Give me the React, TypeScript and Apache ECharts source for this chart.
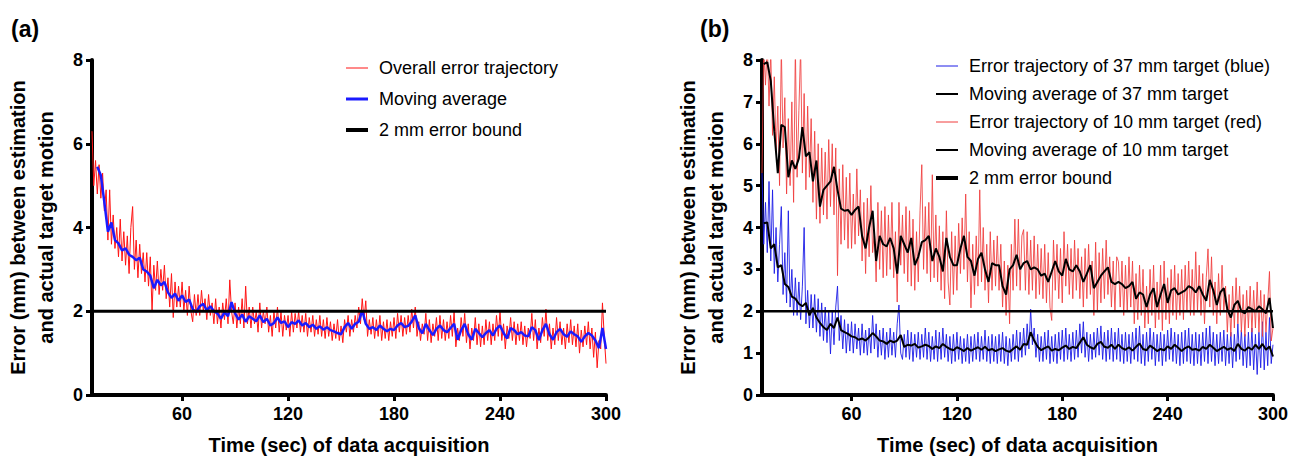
import React, { useEffect, useRef } from "react";
import * as echarts from "echarts";

// ---------- sampling grid ----------
const RAW_T0 = 9; // first raw sample (s), 1-s sampling
const RAW_DT = 1;
const MA_A_T0 = 12; // moving average panel (a), 2-s sampling
const MA_B_T0 = 10; // moving averages panel (b), 2-s sampling
const MA_DT = 2;

// ---------- axes ----------
const X_MIN = 9;
const X_MAX = 300;
const xTickValues = [60, 120, 180, 240, 300];
const yMax = 8;
const yIntervalA = 2;
const yIntervalB = 1;
const boundT = [9, 300];
const boundV = [2, 2];

// ---------- texts ----------
const panelLabels = ["(a)", "(b)"];
const xAxisTitle = "Time (sec) of data acquisition";
const yAxisTitle = "Error (mm) between estimation\nand actual target motion";
const legendA = ["Overall error trajectory", "Moving average", "2 mm error bound"];
const legendB = [
  "Error trajectory of 37 mm target (blue)",
  "Moving average of 37 mm target",
  "Error trajectory of 10 mm target (red)",
  "Moving average of 10 mm target",
  "2 mm error bound",
];

// ---------- panel (a) ----------
const rawA = [
  6.3, 5.0, 5.6, 4.8, 5.5, 4.7, 5.3, 4.4, 4.9, 3.7,
  4.9, 3.6, 4.3, 3.5, 4.0, 3.3, 4.2, 3.2, 3.9, 3.1,
  3.8, 2.9, 4.0, 4.5, 3.0, 3.7, 2.8, 3.6, 2.9, 3.4,
  2.7, 3.4, 2.6, 3.3, 2.0, 3.1, 2.5, 3.2, 2.4, 3.0,
  2.5, 3.1, 2.3, 2.8, 2.1, 2.9, 1.85, 2.7, 2.1, 2.6,
  2.1, 2.7, 2.0, 2.5, 1.9, 2.6, 2.0, 1.75, 2.4, 1.9,
  2.4, 1.9, 2.5, 2.0, 2.3, 1.8, 2.4, 1.9, 2.2, 1.7,
  2.3, 1.7, 2.1, 1.6, 2.2, 1.8, 2.3, 1.7, 2.75, 2.0,
  1.7, 2.2, 1.6, 2.1, 1.7, 2.3, 1.6, 2.6, 1.7, 2.1,
  1.6, 2.1, 1.7, 2.0, 1.5, 2.2, 1.6, 2.0, 1.7, 2.1,
  1.5, 1.9, 1.4, 2.0, 1.6, 2.1, 1.5, 2.0, 1.4, 1.9,
  1.55, 1.9, 1.4, 2.0, 1.5, 1.95, 1.6, 2.0, 1.5, 1.9,
  1.5, 1.95, 1.4, 1.85, 1.5, 1.9, 1.4, 1.8, 1.45, 1.9,
  1.4, 1.8, 1.35, 1.85, 1.4, 1.75, 1.3, 1.7, 1.35, 1.8,
  1.3, 1.65, 1.25, 1.8, 1.5, 1.9, 1.4, 1.8, 1.5, 1.9,
  1.6, 2.1, 1.7, 2.3, 1.8, 2.25, 1.4, 1.8, 1.45, 1.85,
  1.35, 1.8, 1.4, 1.9, 1.3, 1.75, 1.35, 1.8, 1.3, 1.75,
  1.4, 1.85, 1.35, 1.95, 1.5, 1.9, 1.4, 1.85, 1.45, 1.9,
  1.5, 2.05, 1.6, 2.1, 1.4, 1.75, 1.3, 1.7, 1.45, 1.95,
  1.3, 1.8, 1.25, 1.7, 1.4, 1.85, 1.3, 1.9, 1.35, 1.8,
  1.3, 1.75, 1.35, 1.9, 1.4, 2.0, 1.15, 1.6, 1.3, 1.85,
  1.4, 1.95, 1.25, 1.7, 1.1, 1.6, 1.3, 1.85, 1.2, 1.7,
  1.15, 1.65, 1.2, 1.8, 1.3, 1.75, 1.2, 1.7, 1.3, 1.9,
  1.4, 2.0, 1.3, 1.7, 1.1, 1.65, 1.35, 1.85, 1.3, 1.75,
  1.2, 1.7, 1.3, 1.75, 1.2, 1.65, 1.15, 1.6, 1.35, 1.95,
  1.3, 1.8, 1.1, 1.6, 1.25, 1.85, 1.4, 2.05, 1.3, 1.7,
  1.1, 1.6, 1.2, 1.85, 1.3, 1.75, 1.2, 1.6, 1.1, 1.7,
  1.25, 1.8, 1.2, 1.65, 1.15, 1.7, 1.0, 1.55, 1.15, 1.65,
  1.2, 1.75, 1.1, 1.6, 0.9, 1.5, 0.65, 1.3, 1.1, 2.2,
  1.4, 0.75,
];

const maA = [
  5.45, 5.25, 4.6, 3.9, 4.12, 3.7, 3.62, 3.45, 3.5, 3.35,
  3.3, 3.22, 3.28, 3.0, 2.95, 2.85, 2.55, 2.75, 2.62, 2.7,
  2.45, 2.32, 2.42, 2.25, 2.38, 2.22, 2.28, 2.05, 1.98, 2.12,
  2.18, 2.02, 2.12, 2.0, 1.95, 1.82, 1.98, 1.88, 2.22, 1.95,
  1.8, 1.92, 1.75, 1.88, 1.82, 1.76, 1.9, 1.74, 1.82, 1.66,
  1.72, 1.85, 1.72, 1.76, 1.62, 1.74, 1.7, 1.78, 1.66, 1.72,
  1.62, 1.68, 1.58, 1.64, 1.56, 1.62, 1.55, 1.52, 1.48, 1.45,
  1.62, 1.72, 1.58, 1.7, 1.75, 2.02, 1.7, 1.58, 1.62, 1.55,
  1.66, 1.58, 1.52, 1.58, 1.55, 1.66, 1.72, 1.62, 1.65, 1.75,
  1.9, 1.6, 1.47, 1.7, 1.55, 1.43, 1.58, 1.66, 1.55, 1.5,
  1.6, 1.7, 1.32, 1.55, 1.7, 1.45, 1.32, 1.58, 1.48, 1.38,
  1.48, 1.55, 1.42, 1.58, 1.66, 1.48, 1.35, 1.6, 1.55, 1.45,
  1.5, 1.42, 1.4, 1.62, 1.55, 1.31, 1.55, 1.7, 1.45, 1.32,
  1.5, 1.58, 1.45, 1.39, 1.52, 1.45, 1.4, 1.27, 1.4, 1.48,
  1.42, 1.3, 1.12, 1.6, 1.1,
];

// ---------- panel (b) ----------
const rawB37 = [
  5.3, 3.6, 4.6, 3.4, 5.1, 3.2, 4.9, 2.9, 4.0, 2.7,
  3.6, 4.5, 2.4, 3.4, 2.2, 4.4, 2.1, 3.0, 1.9, 2.8,
  1.9, 2.7, 1.8, 2.6, 4.0, 1.7, 2.5, 1.6, 2.4, 1.6,
  2.4, 1.5, 2.3, 1.4, 2.2, 1.3, 2.1, 1.25, 2.0, 0.98,
  2.0, 1.2, 2.1, 2.6, 1.3, 1.9, 1.1, 1.8, 1.0, 1.7,
  1.05, 1.75, 1.0, 1.7, 1.1, 1.6, 0.95, 1.7, 1.0, 1.55,
  0.95, 1.6, 1.0, 1.9, 1.1, 1.7, 0.9, 1.55, 0.95, 1.6,
  0.85, 1.5, 0.9, 1.6, 0.95, 1.5, 0.9, 1.7, 2.15, 1.0,
  0.85, 1.45, 0.9, 1.55, 0.85, 1.5, 0.8, 1.45, 0.9, 1.5,
  0.85, 1.45, 0.9, 1.6, 0.85, 1.5, 0.8, 1.4, 0.85, 1.55,
  0.8, 1.5, 0.85, 1.6, 0.9, 1.45, 0.8, 1.4, 0.75, 1.45,
  0.8, 1.5, 0.85, 1.4, 0.75, 1.35, 0.8, 1.45, 0.75, 1.4,
  0.8, 1.45, 0.85, 1.5, 0.8, 1.4, 0.85, 1.55, 0.8, 1.4,
  0.75, 1.45, 0.8, 1.4, 0.75, 1.45, 0.8, 1.5, 0.75, 1.4,
  0.7, 1.35, 0.8, 1.45, 0.85, 1.55, 0.8, 1.5, 0.9, 1.6,
  0.95, 1.7, 1.1, 2.05, 1.2, 1.6, 0.9, 1.45, 0.8, 1.4,
  0.8, 1.5, 0.85, 1.55, 0.75, 1.4, 0.8, 1.45, 0.75, 1.5,
  0.85, 1.55, 0.8, 1.6, 0.85, 1.45, 0.8, 1.5, 0.85, 1.55,
  0.9, 1.7, 1.0, 1.75, 0.9, 1.5, 0.8, 1.45, 0.85, 1.5,
  0.9, 1.6, 0.95, 1.65, 0.85, 1.5, 0.8, 1.55, 0.85, 1.6,
  0.8, 1.5, 0.85, 1.6, 0.8, 1.45, 0.75, 1.5, 0.8, 1.45,
  0.75, 1.5, 0.85, 1.6, 0.8, 1.65, 0.75, 1.45, 0.7, 1.5,
  0.8, 1.6, 0.85, 1.5, 0.7, 1.45, 0.8, 1.5, 0.7, 1.45,
  0.8, 1.55, 0.85, 1.6, 0.8, 1.5, 0.75, 1.45, 0.7, 1.5,
  0.75, 1.55, 0.8, 1.6, 0.75, 1.45, 0.7, 1.5, 0.75, 1.45,
  0.7, 1.5, 0.8, 1.6, 0.75, 1.65, 0.8, 1.5, 0.7, 1.45,
  0.75, 1.5, 0.8, 1.55, 0.7, 1.45, 0.75, 1.5, 0.65, 1.45,
  0.8, 1.7, 0.85, 1.55, 0.7, 1.45, 0.65, 1.5, 0.7, 1.6,
  0.6, 1.45, 0.49, 1.5, 0.65, 1.75, 0.6, 1.5, 0.7, 1.85,
  0.75, 1.2,
];

const rawB10 = [
  5.3, 8.3, 7.4, 8.4, 6.9, 8.2, 6.2, 7.6, 5.8, 6.9,
  5.0, 8.3, 5.9, 7.1, 4.8, 6.6, 5.0, 7.0, 4.6, 8.3,
  5.2, 6.8, 8.3, 5.3, 7.2, 4.9, 6.9, 5.2, 6.6, 4.6,
  6.3, 4.2, 6.0, 4.1, 5.9, 4.3, 5.8, 4.2, 6.1, 4.5,
  6.0, 4.3, 5.9, 2.85, 5.4, 3.6, 5.5, 3.7, 5.2, 3.5,
  5.3, 3.5, 4.8, 3.6, 5.4, 3.8, 4.9, 3.2, 4.6, 2.9,
  4.7, 3.3, 5.0, 3.4, 3.9, 2.7, 4.6, 3.0, 4.4, 2.8,
  4.5, 2.85, 4.3, 3.0, 4.6, 2.8, 3.9, 2.22, 4.6, 3.1,
  4.3, 2.9, 4.5, 2.7, 4.4, 2.6, 4.2, 2.5, 3.9, 2.7,
  4.4, 5.5, 3.0, 4.5, 2.9, 4.6, 2.7, 5.26, 2.8, 4.3,
  2.7, 4.04, 2.5, 3.9, 2.3, 4.4, 2.7, 2.15, 3.9, 2.4,
  3.8, 2.5, 4.1, 2.9, 4.23, 3.0, 4.8, 2.7, 3.9, 2.08,
  3.6, 2.4, 3.8, 2.6, 4.9, 2.7, 4.0, 2.5, 3.6, 2.2,
  3.9, 2.5, 3.7, 2.6, 3.8, 2.5, 3.6, 2.1, 3.2, 1.9,
  3.1, 1.7, 3.6, 2.5, 4.2, 2.6, 4.2, 2.5, 3.8, 3.95,
  2.5, 3.9, 2.4, 3.7, 2.5, 3.8, 2.3, 3.6, 2.4, 3.5,
  2.3, 3.6, 2.2, 3.4, 2.1, 1.78, 3.7, 2.5, 3.6, 2.3,
  3.5, 2.2, 3.9, 2.6, 3.6, 2.4, 3.5, 2.3, 3.7, 2.5,
  3.5, 2.3, 3.3, 2.1, 3.5, 2.3, 3.6, 2.4, 3.2, 1.9,
  3.65, 2.0, 3.4, 2.2, 3.5, 2.3, 3.7, 2.4, 3.3, 2.1,
  3.2, 2.0, 3.3, 3.18, 2.1, 3.2, 1.9, 3.1, 2.0, 3.3,
  2.1, 3.2, 1.7, 2.9, 1.8, 3.1, 1.9, 3.0, 1.6, 2.6,
  1.7, 3.0, 1.9, 3.1, 1.6, 2.7, 1.8, 3.1, 1.54, 3.2,
  1.8, 2.8, 1.7, 3.0, 1.9, 3.1, 1.8, 2.9, 1.9, 3.0,
  1.8, 3.1, 2.0, 3.2, 1.9, 3.0, 1.9, 3.42, 2.0, 3.1,
  1.9, 2.9, 1.7, 2.8, 3.49, 2.1, 3.3, 1.9, 2.7, 1.7,
  2.9, 1.9, 3.1, 2.0, 2.6, 1.5, 2.4, 1.4, 2.6, 1.6,
  2.8, 1.7, 2.6, 1.5, 2.4, 1.4, 2.5, 1.6, 2.6, 1.5,
  2.5, 1.6, 2.7, 1.5, 2.5, 1.4, 2.4, 1.5, 2.2, 2.95,
  1.29, 1.6,
];

const maB37 = [
  4.1, 4.12, 3.5, 3.6, 3.05, 3.1, 2.65, 2.58, 2.35, 2.3,
  2.18, 2.12, 2.2, 1.9, 2.08, 1.85, 1.72, 1.62, 1.55, 1.7,
  1.6, 1.85, 1.55, 1.5, 1.46, 1.4, 1.38, 1.32, 1.35, 1.3,
  1.38, 1.48, 1.4, 1.3, 1.28, 1.22, 1.3, 1.26, 1.3, 1.43,
  1.15, 1.2, 1.18, 1.22, 1.13, 1.16, 1.2, 1.17, 1.1, 1.16,
  1.12, 1.22, 1.15, 1.1, 1.07, 1.14, 1.1, 1.05, 1.12, 1.06,
  1.1, 1.14, 1.08, 1.15, 1.07, 1.1, 1.05, 1.09, 1.12, 1.06,
  1.03, 1.1, 1.16, 1.08, 1.22, 1.2, 1.5, 1.3, 1.15, 1.07,
  1.12, 1.16, 1.06, 1.1, 1.07, 1.13, 1.18, 1.1, 1.15, 1.12,
  1.25, 1.38, 1.2, 1.14, 1.1, 1.22, 1.27, 1.15, 1.13, 1.2,
  1.1, 1.2, 1.12, 1.08, 1.14, 1.06, 1.15, 1.23, 1.1, 1.07,
  1.18, 1.12, 1.05, 1.1, 1.07, 1.16, 1.1, 1.2, 1.13, 1.05,
  1.12, 1.16, 1.08, 1.1, 1.06, 1.15, 1.1, 1.2, 1.13, 1.05,
  1.1, 1.15, 1.08, 1.12, 1.05, 1.22, 1.1, 1.06, 1.14, 1.08,
  1.2, 1.1, 1.22, 1.08, 1.16, 0.92,
];

const maB10 = [
  7.9, 7.95, 7.5, 6.3, 5.3, 6.45, 6.4, 5.2, 5.6, 5.4,
  5.65, 6.4, 5.7, 5.8, 5.1, 5.6, 4.5, 4.9, 5.0, 5.1,
  5.45, 4.9, 4.45, 4.4, 4.42, 4.3, 4.42, 4.5, 3.8, 3.5,
  4.0, 4.4, 3.2, 3.8, 3.6, 3.55, 3.75, 3.5, 2.9, 3.8,
  3.6, 3.4, 3.75, 3.1, 3.3, 3.65, 3.7, 3.8, 3.2, 3.5,
  3.3, 2.95, 3.75, 3.3, 3.1, 3.1, 3.5, 3.8, 3.3, 3.2,
  2.85, 3.25, 3.4, 3.0, 2.7, 3.15, 3.1, 3.1, 2.6, 2.4,
  3.0, 3.1, 3.35, 3.0, 3.15, 3.2, 3.0, 3.05, 3.0, 2.85,
  2.9, 2.7, 2.95, 3.2, 2.95, 2.85, 3.25, 3.0, 2.95, 3.1,
  2.95, 2.7, 2.9, 3.1, 2.55, 2.7, 2.85, 2.95, 3.05, 2.7,
  2.65, 2.7, 2.65, 2.55, 2.6, 2.7, 2.3, 2.45, 2.4, 2.1,
  2.4, 2.55, 2.1, 2.4, 2.65, 2.2, 2.5, 2.55, 2.4, 2.45,
  2.5, 2.6, 2.55, 2.45, 2.6, 2.4, 2.25, 2.75, 2.5, 2.15,
  2.45, 2.55, 2.05, 1.85, 2.15, 2.25, 2.0, 1.95, 2.1, 2.05,
  2.0, 2.12, 2.05, 1.95, 2.32, 1.6,
];

// ---------- helpers ----------
const FONT = "'Liberation Sans', Arial, Helvetica, sans-serif";
const toPairs = (vals: number[], t0: number, dt: number) =>
  vals.map((v, i) => [t0 + i * dt, v]);

const xAxisFor = (gridIndex: number) => ({
  type: "value",
  gridIndex,
  min: X_MIN,
  max: X_MAX,
  axisLine: { show: true, onZero: false, lineStyle: { color: "#000", width: 4 } },
  axisTick: {
    show: true,
    customValues: xTickValues,
    length: 6,
    lineStyle: { color: "#000", width: 3 },
  },
  axisLabel: {
    customValues: xTickValues,
    color: "#000",
    fontWeight: "bold",
    fontSize: 18,
    fontFamily: FONT,
    margin: 10,
  },
  splitLine: { show: false },
  name: xAxisTitle,
  nameLocation: "middle",
  nameGap: 40,
  nameTextStyle: { color: "#000", fontWeight: "bold", fontSize: 20, fontFamily: FONT },
});

const yAxisFor = (gridIndex: number, interval: number) => ({
  type: "value",
  gridIndex,
  min: 0,
  max: yMax,
  interval,
  axisLine: { show: true, onZero: false, lineStyle: { color: "#000", width: 4 } },
  axisTick: { show: true, length: 6, lineStyle: { color: "#000", width: 3 } },
  axisLabel: {
    color: "#000",
    fontWeight: "bold",
    fontSize: 18,
    fontFamily: FONT,
    margin: 9,
  },
  splitLine: { show: false },
  name: yAxisTitle,
  nameLocation: "middle",
  nameRotate: 90,
  nameGap: 32,
  nameTextStyle: {
    color: "#000",
    fontWeight: "bold",
    fontSize: 20,
    lineHeight: 28,
    fontFamily: FONT,
    align: "center",
  },
});

const lineSeries = (
  name: string,
  data: number[][],
  axisIndex: number,
  color: string,
  width: number,
  opacity = 1
) => ({
  name,
  type: "line",
  xAxisIndex: axisIndex,
  yAxisIndex: axisIndex,
  data,
  symbol: "none",
  showSymbol: false,
  clip: true,
  silent: true,
  lineStyle: { color, width, opacity },
  itemStyle: { color },
});

const legendGraphic = (
  items: string[],
  styles: { color: string; width: number }[],
  x0: number,
  y0: number,
  gap: number
) => {
  const els: any[] = [];
  items.forEach((txt, i) => {
    const y = y0 + i * gap;
    els.push({
      type: "line",
      shape: { x1: x0, y1: y, x2: x0 + 22, y2: y },
      style: { stroke: styles[i].color, lineWidth: styles[i].width },
      silent: true,
    });
    els.push({
      type: "text",
      x: x0 + 33,
      y,
      style: {
        text: txt,
        fill: "#000",
        fontSize: 18,
        fontFamily: FONT,
        verticalAlign: "middle",
        align: "left",
      },
      silent: true,
    });
  });
  return els;
};

export default function App() {
  const ref = useRef<HTMLDivElement>(null);

  useEffect(() => {
    document.body.style.margin = "0";
    if (!ref.current) return;
    const chart = echarts.init(ref.current, undefined, { renderer: "svg" });

    const option: any = {
      animation: false,
      backgroundColor: "#fff",
      grid: [
        { left: 92, top: 60, width: 514, height: 342, containLabel: false },
        { left: 762, top: 60, width: 513, height: 342, containLabel: false },
      ],
      xAxis: [xAxisFor(0), xAxisFor(1)],
      yAxis: [yAxisFor(0, yIntervalA), yAxisFor(1, yIntervalB)],
      series: [
        lineSeries(legendA[0], toPairs(rawA, RAW_T0, RAW_DT), 0, "#ff1414", 1),
        lineSeries(legendA[1], toPairs(maA, MA_A_T0, MA_DT), 0, "#1a1aff", 2.5),
        lineSeries(legendA[2], boundT.map((t, i) => [t, boundV[i]]), 0, "#000", 3),
        lineSeries(legendB[0], toPairs(rawB37, RAW_T0, RAW_DT), 1, "#1c1ce6", 0.9),
        lineSeries(legendB[2], toPairs(rawB10, RAW_T0, RAW_DT), 1, "#f03c3c", 1, 0.85),
        lineSeries(legendB[1], toPairs(maB37, MA_B_T0, MA_DT), 1, "#000", 2),
        lineSeries(legendB[3], toPairs(maB10, MA_B_T0, MA_DT), 1, "#000", 2),
        lineSeries(legendB[4], boundT.map((t, i) => [t, boundV[i]]), 1, "#000", 2.5),
      ],
      graphic: [
        {
          type: "text",
          x: 11,
          y: 29,
          style: {
            text: panelLabels[0],
            fill: "#000",
            fontSize: 23,
            fontWeight: "bold",
            fontFamily: FONT,
            verticalAlign: "middle",
          },
        },
        {
          type: "text",
          x: 700,
          y: 29,
          style: {
            text: panelLabels[1],
            fill: "#000",
            fontSize: 23,
            fontWeight: "bold",
            fontFamily: FONT,
            verticalAlign: "middle",
          },
        },
        ...legendGraphic(
          legendA,
          [
            { color: "#ff1414", width: 1 },
            { color: "#1a1aff", width: 3 },
            { color: "#000", width: 4 },
          ],
          346,
          68,
          31
        ),
        ...legendGraphic(
          legendB,
          [
            { color: "#1c1ce6", width: 1 },
            { color: "#000", width: 2 },
            { color: "#f03c3c", width: 1 },
            { color: "#000", width: 2 },
            { color: "#000", width: 4 },
          ],
          936,
          66,
          28
        ),
      ],
    };

    chart.setOption(option);
    return () => chart.dispose();
  }, []);

  return <div ref={ref} style={{ width: 1291, height: 460 }} />;
}
